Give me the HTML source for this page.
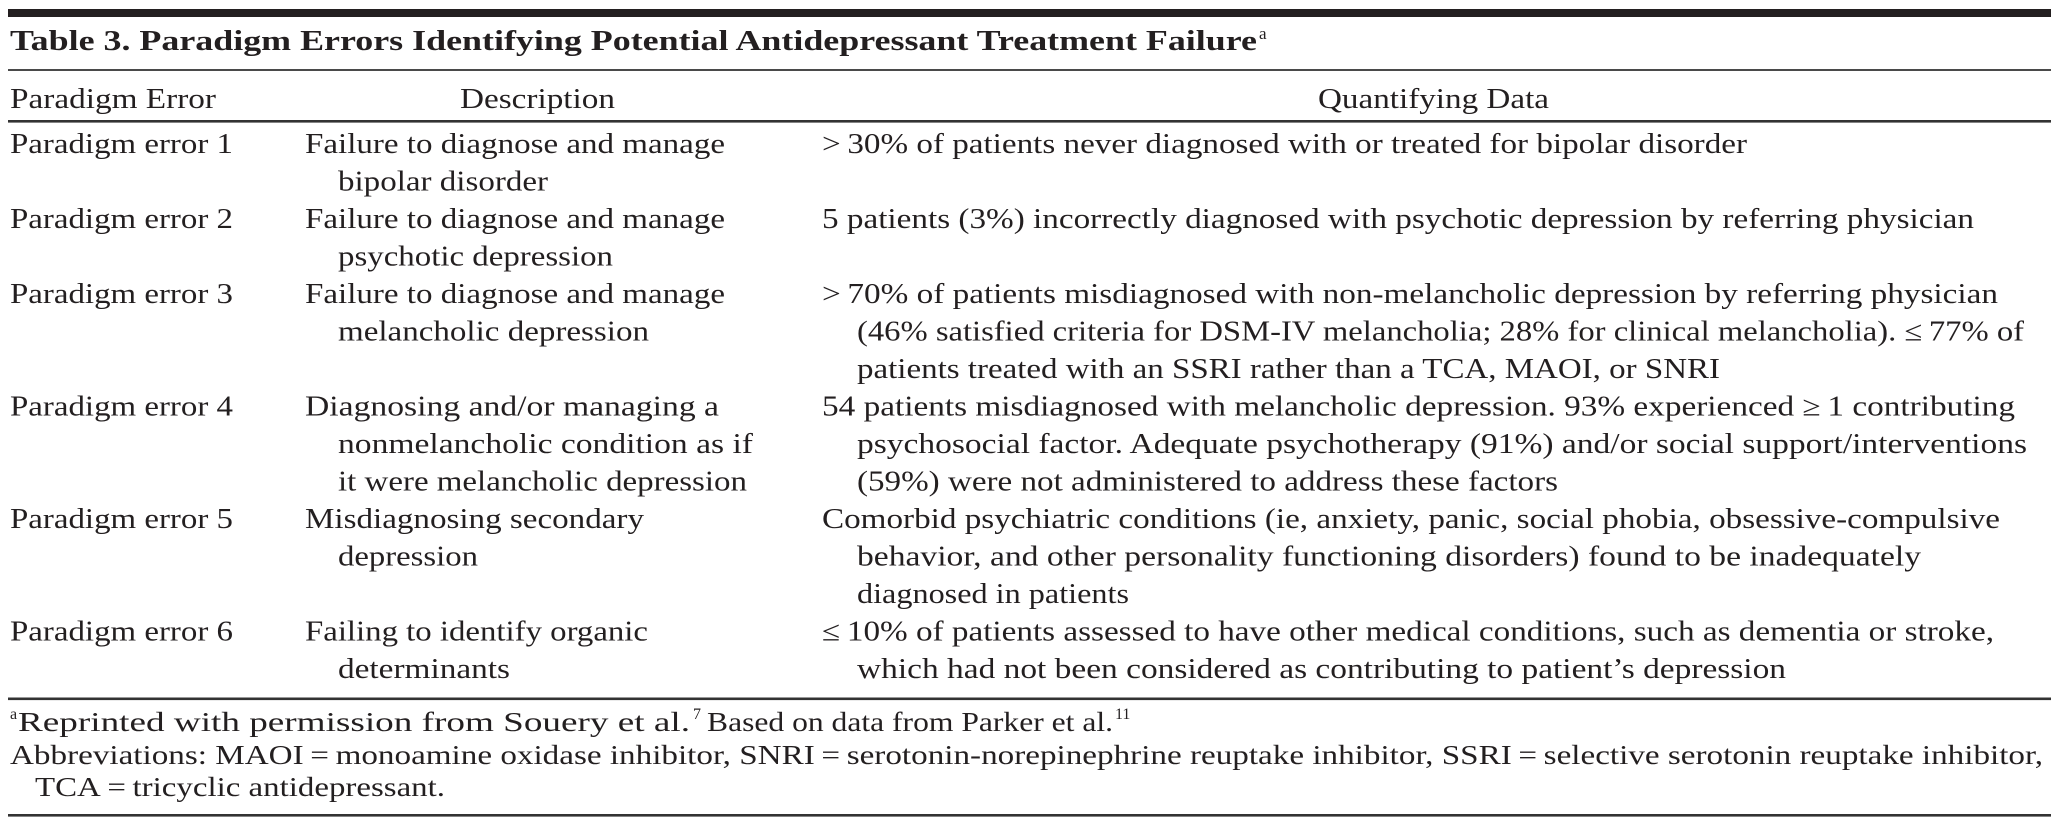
<!DOCTYPE html>
<html>
<head>
<meta charset="utf-8">
<style>
  html, body { margin: 0; padding: 0; background: #ffffff; }
  body { width: 2058px; height: 828px; overflow: hidden; }
  svg { display: block; }
  text { font-family: "Liberation Serif", "DejaVu Serif", serif; fill: #231f20; font-size: 28px; }
  .t { font-weight: bold; }
  .fn { font-size: 27px; }
</style>
</head>
<body>
<svg width="2058" height="828" viewBox="0 0 2058 828" xmlns="http://www.w3.org/2000/svg">
  <!-- rules -->
  <rect x="8" y="9" width="2043" height="8" fill="#231f20"/>
  <rect x="8" y="69" width="2043" height="2" fill="#4a4a4a"/>
  <rect x="8" y="120" width="2043" height="2.6" fill="#333333"/>
  <rect x="8" y="697.5" width="2043" height="2.6" fill="#333333"/>
  <rect x="8" y="814" width="2043" height="2.6" fill="#333333"/>

  <!-- title -->
  <text class="t" x="10" y="50" textLength="1247" lengthAdjust="spacingAndGlyphs">Table 3. Paradigm Errors Identifying Potential Antidepressant Treatment Failure</text>
  <text x="1259" y="39" style="font-size:17px">a</text>

  <!-- header -->
  <text x="10" y="108" textLength="206" lengthAdjust="spacingAndGlyphs">Paradigm Error</text>
  <text x="460" y="108" textLength="155" lengthAdjust="spacingAndGlyphs">Description</text>
  <text x="1318" y="108" textLength="231" lengthAdjust="spacingAndGlyphs">Quantifying Data</text>

  <!-- column 1 -->
  <text x="10" y="153" textLength="223" lengthAdjust="spacingAndGlyphs">Paradigm error 1</text>
  <text x="10" y="228" textLength="223" lengthAdjust="spacingAndGlyphs">Paradigm error 2</text>
  <text x="10" y="303" textLength="223" lengthAdjust="spacingAndGlyphs">Paradigm error 3</text>
  <text x="10" y="415.5" textLength="223" lengthAdjust="spacingAndGlyphs">Paradigm error 4</text>
  <text x="10" y="528" textLength="223" lengthAdjust="spacingAndGlyphs">Paradigm error 5</text>
  <text x="10" y="640.5" textLength="223" lengthAdjust="spacingAndGlyphs">Paradigm error 6</text>

  <!-- column 2 -->
  <text x="305" y="153" textLength="420" lengthAdjust="spacingAndGlyphs">Failure to diagnose and manage</text>
  <text x="338" y="190.5" textLength="210" lengthAdjust="spacingAndGlyphs">bipolar disorder</text>
  <text x="305" y="228" textLength="420" lengthAdjust="spacingAndGlyphs">Failure to diagnose and manage</text>
  <text x="338" y="265.5" textLength="275" lengthAdjust="spacingAndGlyphs">psychotic depression</text>
  <text x="305" y="303" textLength="420" lengthAdjust="spacingAndGlyphs">Failure to diagnose and manage</text>
  <text x="338" y="340.5" textLength="311" lengthAdjust="spacingAndGlyphs">melancholic depression</text>
  <text x="305" y="415.5" textLength="414" lengthAdjust="spacingAndGlyphs">Diagnosing and/or managing a</text>
  <text x="338" y="453" textLength="415" lengthAdjust="spacingAndGlyphs">nonmelancholic condition as if</text>
  <text x="338" y="490.5" textLength="409" lengthAdjust="spacingAndGlyphs">it were melancholic depression</text>
  <text x="305" y="528" textLength="339" lengthAdjust="spacingAndGlyphs">Misdiagnosing secondary</text>
  <text x="338" y="565.5" textLength="140" lengthAdjust="spacingAndGlyphs">depression</text>
  <text x="305" y="640.5" textLength="343" lengthAdjust="spacingAndGlyphs">Failing to identify organic</text>
  <text x="338" y="678" textLength="172" lengthAdjust="spacingAndGlyphs">determinants</text>

  <!-- column 3 -->
  <text x="822" y="153" textLength="925" lengthAdjust="spacingAndGlyphs">&gt;&#8201;30% of patients never diagnosed with or treated for bipolar disorder</text>
  <text x="822" y="228" textLength="1152" lengthAdjust="spacingAndGlyphs">5 patients (3%) incorrectly diagnosed with psychotic depression by referring physician</text>
  <text x="822" y="303" textLength="1176" lengthAdjust="spacingAndGlyphs">&gt;&#8201;70% of patients misdiagnosed with non-melancholic depression by referring physician</text>
  <text x="857" y="340.5" textLength="1167" lengthAdjust="spacingAndGlyphs">(46% satisfied criteria for DSM-IV melancholia; 28% for clinical melancholia). ≤&#8201;77% of</text>
  <text x="857" y="378" textLength="863" lengthAdjust="spacingAndGlyphs">patients treated with an SSRI rather than a TCA, MAOI, or SNRI</text>
  <text x="822" y="415.5" textLength="1193" lengthAdjust="spacingAndGlyphs">54 patients misdiagnosed with melancholic depression. 93% experienced ≥&#8201;1 contributing</text>
  <text x="857" y="453" textLength="1170" lengthAdjust="spacingAndGlyphs">psychosocial factor. Adequate psychotherapy (91%) and/or social support/interventions</text>
  <text x="857" y="490.5" textLength="701" lengthAdjust="spacingAndGlyphs">(59%) were not administered to address these factors</text>
  <text x="822" y="528" textLength="1178" lengthAdjust="spacingAndGlyphs">Comorbid psychiatric conditions (ie, anxiety, panic, social phobia, obsessive-compulsive</text>
  <text x="857" y="565.5" textLength="1064" lengthAdjust="spacingAndGlyphs">behavior, and other personality functioning disorders) found to be inadequately</text>
  <text x="857" y="603" textLength="272" lengthAdjust="spacingAndGlyphs">diagnosed in patients</text>
  <text x="822" y="640.5" textLength="1172" lengthAdjust="spacingAndGlyphs">≤&#8201;10% of patients assessed to have other medical conditions, such as dementia or stroke,</text>
  <text x="857" y="678" textLength="929" lengthAdjust="spacingAndGlyphs">which had not been considered as contributing to patient’s depression</text>

  <!-- footnotes -->
  <text x="10" y="719" style="font-size:16px">a</text>
  <text class="fn" x="18" y="731" textLength="672" lengthAdjust="spacingAndGlyphs">Reprinted with permission from Souery et al.</text>
  <text x="693" y="719" style="font-size:16px">7</text>
  <text class="fn" x="707" y="731" textLength="406" lengthAdjust="spacingAndGlyphs">Based on data from Parker et al.</text>
  <text x="1115" y="719" style="font-size:16px">11</text>
  <text class="fn" x="10" y="764" textLength="2033" lengthAdjust="spacingAndGlyphs">Abbreviations: MAOI&#8201;=&#8201;monoamine oxidase inhibitor, SNRI&#8201;=&#8201;serotonin-norepinephrine reuptake inhibitor, SSRI&#8201;=&#8201;selective serotonin reuptake inhibitor,</text>
  <text class="fn" x="35" y="796" textLength="410" lengthAdjust="spacingAndGlyphs">TCA&#8201;=&#8201;tricyclic antidepressant.</text>
</svg>
</body>
</html>
